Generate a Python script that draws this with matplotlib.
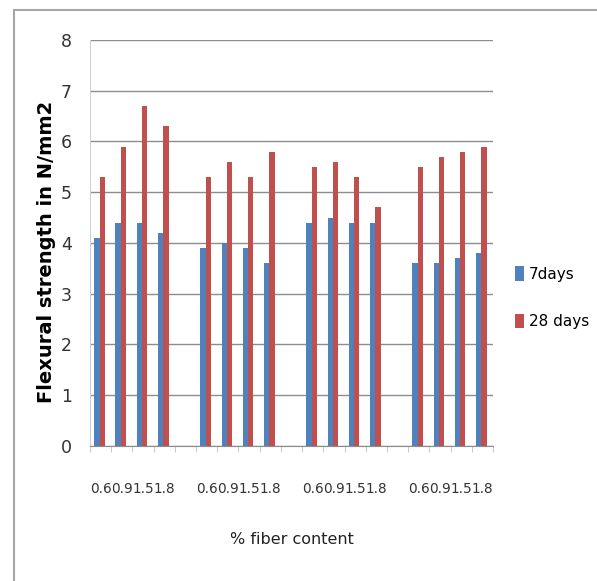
import matplotlib.pyplot as plt
import numpy as np
from matplotlib.patches import Rectangle

# fibre content within each of the four groups
fibre = ["0.6", "0.9", "1.5", "1.8"]
n_groups = 4

# flexural strength (N/mm2), group by group
days7 = [4.1, 4.4, 4.4, 4.2,
         3.9, 4.0, 3.9, 3.6,
         4.4, 4.5, 4.4, 4.4,
         3.6, 3.6, 3.7, 3.8]
days28 = [5.3, 5.9, 6.7, 6.3,
          5.3, 5.6, 5.3, 5.8,
          5.5, 5.6, 5.3, 4.7,
          5.5, 5.7, 5.8, 5.9]

blue = '#4F81BD'
red = '#C0504D'

# category slots: 4 bars per group, one empty slot between groups
n_slots = n_groups * 5 - 1
pos = np.array([g * 5 + i for g in range(n_groups) for i in range(len(fibre))])
slot_labels = [''] * n_slots
for g in range(n_groups):
    for i, f in enumerate(fibre):
        slot_labels[g * 5 + i] = f

fig = plt.figure(figsize=(5.97, 5.81), dpi=100)
ax = fig.add_axes([0.1508, 0.2324, 0.675, 0.6988])

w = 0.25
ax.bar(pos - w / 2 - 0.05, days7, width=w, color=blue, label='7days', zorder=3)
ax.bar(pos + w / 2 - 0.05, days28, width=w, color=red, label='28 days', zorder=3)

ax.set_xlim(-0.5, n_slots - 0.5)
ax.set_ylim(0, 8)
ax.set_yticks(range(0, 9))
ax.yaxis.grid(True, color='#8c8c8c', linewidth=1.0, zorder=0)
ax.tick_params(axis='y', length=0, pad=13, labelsize=12.5, labelcolor='#333333')

# category labels sit in the middle of each slot, ticks between slots
ax.set_xticks(np.arange(n_slots))
ax.set_xticklabels(slot_labels, fontsize=9.8, color='#333333')
ax.set_xticks(np.arange(n_slots + 1) - 0.5, minor=True)
ax.tick_params(axis='x', which='major', length=0, pad=26)
ax.tick_params(axis='x', which='minor', length=4, color='#bfbfbf', direction='out')

for s in ['top', 'right']:
    ax.spines[s].set_visible(False)
ax.spines['left'].set_color('#d0d0d0')
ax.spines['bottom'].set_color('#8c8c8c')

ax.set_ylabel('Flexural strength in N/mm2', fontsize=14, fontweight='bold')
ax.yaxis.set_label_coords(-0.085, 0.478)
ax.set_xlabel('% fiber content', fontsize=11.5, color='#222222', labelpad=26)

ax.legend(loc='center left', bbox_to_anchor=(1.02, 0.365), frameon=False,
          handlelength=0.6, handleheight=1.1, handletextpad=0.3,
          labelspacing=2.1, fontsize=11)

# light frame around the chart area
fig.patches.append(Rectangle((14 / 597, -0.05), 1.1, 1 - 10 / 581 + 0.05,
                             transform=fig.transFigure, fill=False,
                             edgecolor='#a6a6a6', linewidth=1.5))

fig.savefig('out.png', dpi=100)
